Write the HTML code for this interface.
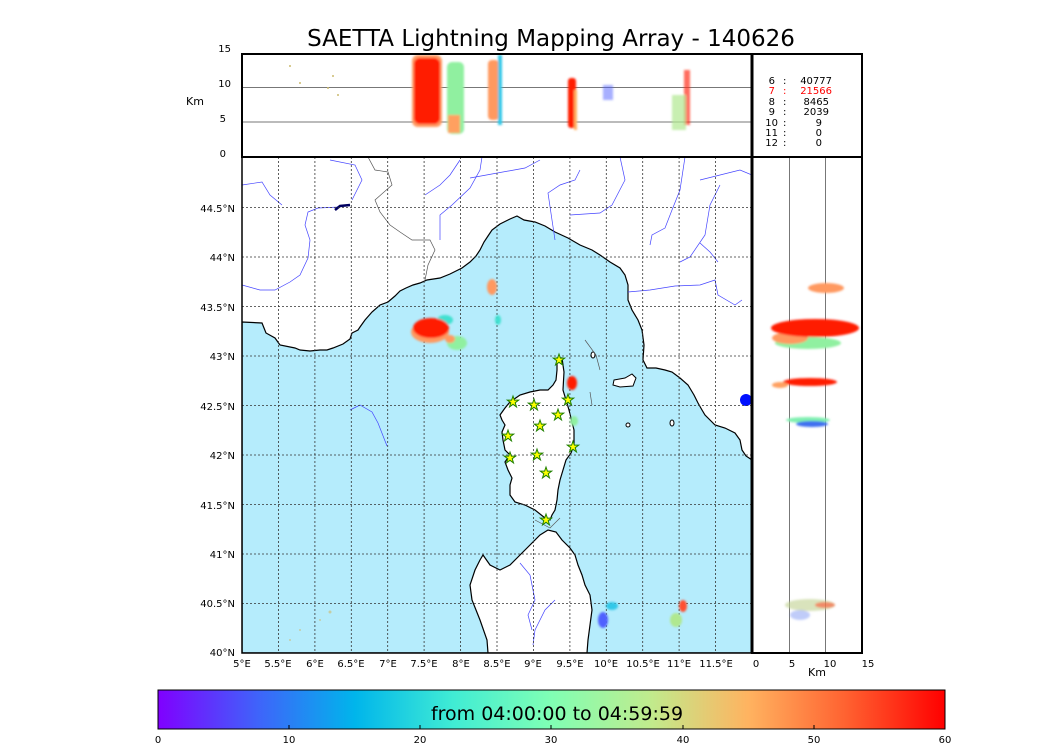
<!DOCTYPE html>
<html><head><meta charset="utf-8"><style>
body{margin:0;background:#fff;}
svg{display:block;font-family:"DejaVu Sans","Liberation Sans",sans-serif;}
</style></head><body>
<svg width="1050" height="750" viewBox="0 0 1050 750" xmlns="http://www.w3.org/2000/svg">
<defs>
<linearGradient id="rb" x1="0" x2="1" y1="0" y2="0">
<stop offset="0" stop-color="#8000ff"/><stop offset="0.125" stop-color="#4062fa"/><stop offset="0.25" stop-color="#00b5eb"/><stop offset="0.375" stop-color="#40ecd4"/><stop offset="0.5" stop-color="#80ffb4"/><stop offset="0.625" stop-color="#c0eb8d"/><stop offset="0.75" stop-color="#ffb360"/><stop offset="0.875" stop-color="#ff6130"/><stop offset="1" stop-color="#ff0000"/>
</linearGradient>
<filter id="bl"><feGaussianBlur stdDeviation="1"/></filter>
<clipPath id="mc"><rect x="242" y="157" width="510" height="496"/></clipPath>
</defs>
<text x="551" y="46" font-size="23" text-anchor="middle">SAETTA Lightning Mapping Array - 140626</text>

<g clip-path="url(#mc)">
<rect x="242" y="157" width="510" height="496" fill="#fff"/>
<path d="M242,322 L262,323 266,333 275,338 280,345 295,348 300,350 310,351 320,350 327,350 333,348 343,344 350,339 352,333 358,330 360,327 365,320 372,312 380,305 388,302 395,296 400,291 406,288 413,285 420,283 427,280 440,278 450,274 462,268 470,262 476,256 480,250 484,242 488,236 492,230 500,224 510,219 517,216 524,220 535,222 545,226 555,232 568,238 580,245 592,250 600,255 610,262 620,268 625,275 628,285 628,300 632,310 638,320 642,330 644,345 643,360 647,368 656,368 665,370 672,372 680,378 688,385 694,395 698,403 702,410 705,415 710,420 715,425 725,428 735,433 740,440 742,450 746,456 752,460 L752,653 242,653Z" fill="#b5ecfc" stroke="#000" stroke-width="1.2"/>
<path d="M557,358 L562,358 564,372 563,390 566,400 569,410 574,430 574,445 571,453 566,460 563,470 560,480 558,490 557,500 555,510 552,515 550,520 545,518 535,510 525,505 515,502 510,495 510,485 512,478 508,470 505,462 510,455 505,450 503,440 502,432 505,425 502,420 500,415 505,408 510,402 520,395 530,392 540,390 548,390 553,385 556,380 557,370Z" fill="#fff" stroke="#000" stroke-width="1.2"/>
<path d="M540,535 L548,530 556,532 562,540 570,548 575,555 578,565 582,575 585,585 590,595 592,610 590,625 588,640 587,653 488,653 487,640 480,620 472,600 470,585 475,570 480,560 483,555 490,565 500,570 510,565 520,555 530,545Z" fill="#fff" stroke="#000" stroke-width="1.2"/>
<path d="M614,380 L625,378 632,374 636,378 633,386 620,387 613,385Z" fill="#fff" stroke="#000" stroke-width="1"/>
<ellipse cx="593" cy="355" rx="2" ry="3" fill="#fff" stroke="#000"/>
<ellipse cx="628" cy="425" rx="2" ry="2" fill="#fff" stroke="#000"/>
<ellipse cx="672" cy="423" rx="2" ry="3" fill="#fff" stroke="#000"/>
<g fill="none" stroke="#4444ff" stroke-width="0.7">
<path d="M242,185 L262,182 270,195 282,205"/>
<path d="M242,285 L260,290 275,290 290,282 300,275 308,258 310,240 305,225 308,212 318,208 340,207"/>
<path d="M330,160 L355,165 362,180 352,200"/>
<path d="M460,160 L450,175 440,185 425,195"/>
<path d="M482,157 L480,170 470,188 452,205 440,215 440,240"/>
<path d="M540,160 L525,168 470,178"/>
<path d="M580,170 L575,180 560,185 548,193 552,220 555,240"/>
<path d="M620,157 L625,180 612,205 600,213 570,215"/>
<path d="M685,157 L680,190 672,210 665,228 652,235 650,245"/>
<path d="M720,185 L710,205 705,235 690,257 680,262"/>
<path d="M700,180 L740,170 752,175"/>
<path d="M628,292 L650,290 675,286 700,285 715,280 718,295 735,305 742,300"/>
<path d="M700,243 L710,252 718,262"/>
<path d="M350,410 L360,405 372,412 378,423 387,446"/>
<path d="M520,563 L530,575 535,600 528,615 532,630"/>
<path d="M555,600 L545,610 535,630 533,645"/>
</g>
<g fill="none" stroke="#555" stroke-width="0.7">
<path d="M368,157 L375,170 388,172 392,185 375,200 380,212 390,225 400,232 412,240 430,240 435,250 428,265 425,280"/>
<path d="M585,340 L596,355 600,370"/>
<path d="M590,392 L592,405"/>
<path d="M535,520 L550,528 560,518"/>
</g>
<path d="M335,210 L340,206 350,205" stroke="#000060" stroke-width="2.5" fill="none"/>
<ellipse cx="746" cy="400" rx="6" ry="6" fill="#0010ff"/>
<g stroke="#333" stroke-width="0.8" stroke-dasharray="2,2" fill="none">
<path d="M278.4,157V653M314.9,157V653M351.3,157V653M387.7,157V653M424.1,157V653M460.6,157V653M497,157V653M533.4,157V653M569.9,157V653M606.3,157V653M642.7,157V653M679.1,157V653M715.6,157V653"/>
<path d="M242,603.5H752M242,554H752M242,504.5H752M242,455H752M242,405.5H752M242,356H752M242,306.5H752M242,257H752M242,207.5H752"/>
</g>
<g filter="url(#bl)">
<ellipse cx="445" cy="320" rx="8" ry="5" fill="#40e0d0"/>
<ellipse cx="457" cy="343" rx="10" ry="7" fill="#90f0a0"/>
<ellipse cx="450" cy="339" rx="5" ry="4" fill="#ff9960"/>
<ellipse cx="430" cy="332" rx="19" ry="11" fill="#ff9960"/>
<ellipse cx="431" cy="328" rx="18" ry="10" fill="#ff1a00"/>
<ellipse cx="492" cy="287" rx="5" ry="8" fill="#ff9960"/>
<ellipse cx="498" cy="320" rx="3" ry="5" fill="#40e0d0"/>
<ellipse cx="572" cy="383" rx="5" ry="7" fill="#ff1a00"/>
<ellipse cx="574" cy="421" rx="4" ry="5" fill="#90f0a0"/>
<ellipse cx="603" cy="620" rx="5" ry="8" fill="#5060ff"/>
<ellipse cx="612" cy="606" rx="6" ry="4" fill="#30c8e8"/>
<ellipse cx="683" cy="606" rx="4" ry="6" fill="#ff5030"/>
<ellipse cx="676" cy="620" rx="6" ry="7" fill="#b0e890"/>
</g>
<g fill="#ccc080" opacity="0.7"><circle cx="300" cy="630" r="1"/><circle cx="320" cy="620" r="1"/><circle cx="330" cy="612" r="1.5"/><circle cx="290" cy="640" r="1"/></g>
<g fill="#ffff00" stroke="#208000" stroke-width="1">
<path id="st" d="M0,-6 L1.4,-1.9 5.7,-1.9 2.2,0.7 3.5,4.9 0,2.3 -3.5,4.9 -2.2,0.7 -5.7,-1.9 -1.4,-1.9Z" transform="translate(559,360)"/>
<use href="#st" transform="translate(-46,42)"/>
<use href="#st" transform="translate(-25,45)"/>
<use href="#st" transform="translate(9,40)"/>
<use href="#st" transform="translate(-1,55)"/>
<use href="#st" transform="translate(-19,66)"/>
<use href="#st" transform="translate(-51,76)"/>
<use href="#st" transform="translate(-22,95)"/>
<use href="#st" transform="translate(-49,98)"/>
<use href="#st" transform="translate(14,87)"/>
<use href="#st" transform="translate(-13,113)"/>
<use href="#st" transform="translate(-13,160)"/>
</g>
</g>
<rect x="242" y="157" width="510" height="496" fill="none" stroke="#000" stroke-width="1.5"/>
<g font-size="10" text-anchor="end">
<text x="235" y="656">40°N</text><text x="235" y="607">40.5°N</text><text x="235" y="558">41°N</text><text x="235" y="509">41.5°N</text><text x="235" y="459">42°N</text><text x="235" y="410">42.5°N</text><text x="235" y="360">43°N</text><text x="235" y="311">43.5°N</text><text x="235" y="261">44°N</text><text x="235" y="212">44.5°N</text>
</g>
<g font-size="10" text-anchor="middle">
<text x="242" y="667">5°E</text><text x="278" y="667">5.5°E</text><text x="315" y="667">6°E</text><text x="351" y="667">6.5°E</text><text x="388" y="667">7°E</text><text x="424" y="667">7.5°E</text><text x="461" y="667">8°E</text><text x="497" y="667">8.5°E</text><text x="533" y="667">9°E</text><text x="570" y="667">9.5°E</text><text x="606" y="667">10°E</text><text x="643" y="667">10.5°E</text><text x="679" y="667">11°E</text><text x="716" y="667">11.5°E</text>
</g>

<rect x="242" y="54" width="510" height="103" fill="#fff"/>
<path d="M242,87.5H752M242,122H752" stroke="#777" stroke-width="1"/>
<g filter="url(#bl)">
<rect x="412" y="55" width="30" height="72" rx="6" fill="#ff9960"/>
<rect x="414" y="58" width="26" height="66" rx="6" fill="#ff1a00"/>
<rect x="447" y="62" width="17" height="72" rx="5" fill="#90f0a0"/>
<rect x="448" y="115" width="12" height="18" fill="#ffa060"/>
<rect x="488" y="60" width="11" height="60" rx="4" fill="#ff9960"/>
<rect x="498" y="55" width="4" height="70" fill="#30c8e8"/>
<rect x="568" y="78" width="8" height="50" rx="3" fill="#ff1a00"/>
<rect x="574" y="90" width="3" height="40" fill="#ffb060"/>
<rect x="603" y="85" width="10" height="15" fill="#5060ff" opacity="0.5"/>
<rect x="684" y="70" width="6" height="55" fill="#ff3020" opacity="0.7"/>
<rect x="672" y="95" width="14" height="35" fill="#b0e890" opacity="0.7"/>
</g>
<g fill="#ccbb70"><circle cx="300" cy="83" r="1"/><circle cx="290" cy="66" r="1"/><circle cx="328" cy="88" r="1"/><circle cx="333" cy="76" r="1"/><circle cx="338" cy="95" r="1"/></g>
<rect x="242" y="54" width="510" height="103" fill="none" stroke="#000" stroke-width="2"/>
<g font-size="10" text-anchor="end"><text x="231" y="52">15</text><text x="231" y="87">10</text><text x="226" y="122">5</text><text x="226" y="157">0</text></g>
<text x="186" y="105" font-size="11">Km</text>

<rect x="752" y="54" width="110" height="103" fill="#fff" stroke="#000" stroke-width="2"/>
<g font-size="10">
<text x="775" y="84" text-anchor="end">6</text><text x="783" y="84">:</text><text x="832" y="84" text-anchor="end">40777</text>
<g fill="#ff0000"><text x="775" y="94" text-anchor="end">7</text><text x="783" y="94">:</text><text x="832" y="94" text-anchor="end">21566</text></g>
<text x="775" y="105" text-anchor="end">8</text><text x="783" y="105">:</text><text x="829" y="105" text-anchor="end">8465</text>
<text x="775" y="115" text-anchor="end">9</text><text x="783" y="115">:</text><text x="829" y="115" text-anchor="end">2039</text>
<text x="778" y="126" text-anchor="end">10</text><text x="783" y="126">:</text><text x="822" y="126" text-anchor="end">9</text>
<text x="778" y="136" text-anchor="end">11</text><text x="783" y="136">:</text><text x="822" y="136" text-anchor="end">0</text>
<text x="778" y="146" text-anchor="end">12</text><text x="783" y="146">:</text><text x="822" y="146" text-anchor="end">0</text>
</g>

<rect x="752" y="157" width="110" height="496" fill="#fff"/>
<path d="M789.5,157V653M825.5,157V653" stroke="#777" stroke-width="1"/>
<g filter="url(#bl)">
<ellipse cx="826" cy="288" rx="18" ry="5" fill="#ff9960"/>
<ellipse cx="808" cy="343" rx="33" ry="6" fill="#90f0a0"/>
<ellipse cx="790" cy="338" rx="18" ry="6" fill="#ff9960"/>
<ellipse cx="815" cy="328" rx="44" ry="9" fill="#ff1a00"/>
<ellipse cx="810" cy="382" rx="27" ry="4" fill="#ff1a00"/>
<ellipse cx="780" cy="385" rx="8" ry="3" fill="#ffa060"/>
<ellipse cx="808" cy="420" rx="22" ry="3" fill="#80f0b0"/>
<ellipse cx="812" cy="424" rx="16" ry="3" fill="#4070f0"/>
<ellipse cx="810" cy="605" rx="25" ry="6" fill="#c0d090" opacity="0.6"/>
<ellipse cx="825" cy="605" rx="10" ry="3" fill="#ff5030" opacity="0.6"/>
<ellipse cx="800" cy="615" rx="10" ry="5" fill="#6080f0" opacity="0.4"/>
</g>
<rect x="752" y="157" width="110" height="496" fill="none" stroke="#000" stroke-width="2"/>
<line x1="752" y1="54" x2="752" y2="653" stroke="#000" stroke-width="3"/>
<g font-size="10" text-anchor="middle"><text x="756" y="667">0</text><text x="792" y="667">5</text><text x="830" y="667">10</text><text x="868" y="667">15</text></g>
<text x="817" y="676" font-size="11" text-anchor="middle">Km</text>

<rect x="158" y="690" width="787" height="39" fill="url(#rb)" stroke="#000" stroke-width="1"/>
<text x="557" y="720" font-size="19" text-anchor="middle">from 04:00:00 to 04:59:59</text>
<g stroke="#000"><path d="M289,729v-4M420,729v-4M551,729v-4M683,729v-4M814,729v-4"/></g>
<g font-size="10" text-anchor="middle"><text x="158" y="743">0</text><text x="289" y="743">10</text><text x="420" y="743">20</text><text x="551" y="743">30</text><text x="683" y="743">40</text><text x="814" y="743">50</text><text x="945" y="743">60</text></g>
</svg>
</body></html>
